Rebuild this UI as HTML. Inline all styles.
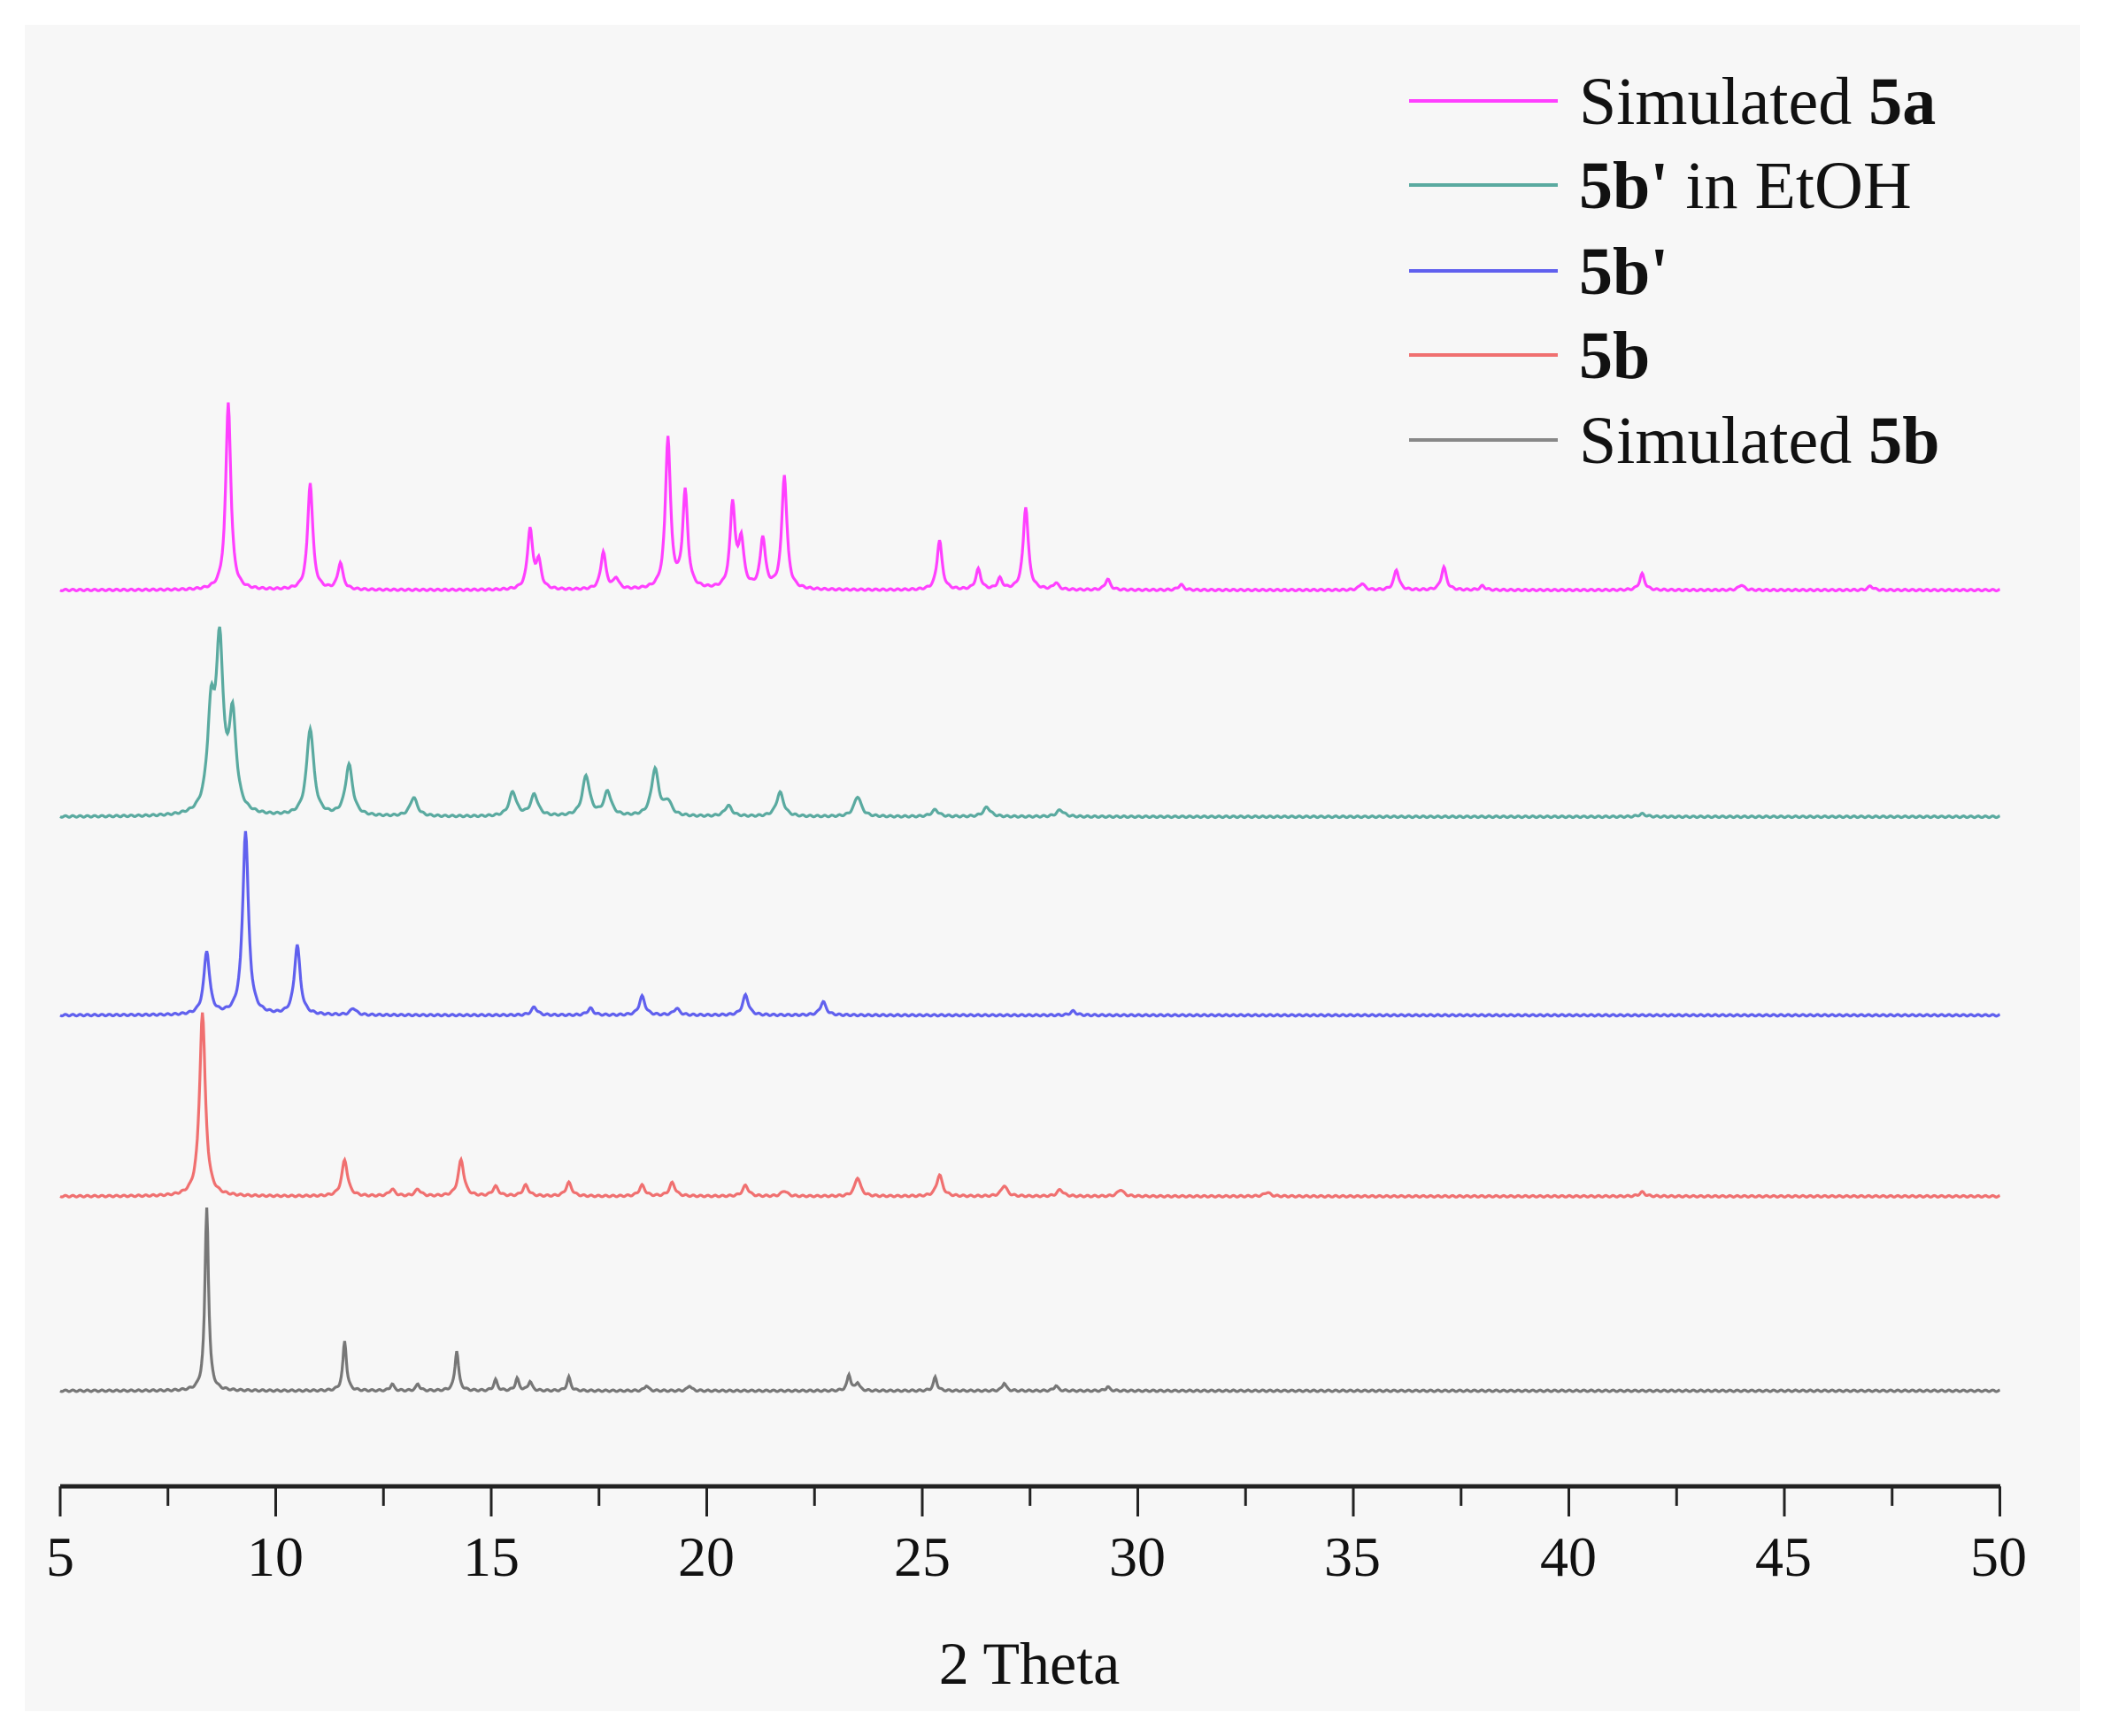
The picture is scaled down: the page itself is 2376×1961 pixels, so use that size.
<!DOCTYPE html>
<html><head><meta charset="utf-8">
<style>
html,body{margin:0;padding:0;background:#fff;}
svg{display:block;}
text{font-family:"Liberation Serif",serif;fill:#111;}
</style></head>
<body>
<svg id="s" width="2376" height="1961" viewBox="0 0 2376 1961" xmlns="http://www.w3.org/2000/svg">
<rect x="28" y="28" width="2322" height="1905" fill="#f7f7f7"/>
<g id="series"></g>
<line x1="68" y1="1679" x2="2260" y2="1679" stroke="#222" stroke-width="5"/>
<g id="ticks" stroke="#222" stroke-width="3"></g>
<g font-size="64" text-anchor="middle">
<text x="68" y="1780">5</text><text x="311" y="1780">10</text><text x="555" y="1780">15</text>
<text x="798" y="1780">20</text><text x="1042" y="1780">25</text><text x="1285" y="1780">30</text>
<text x="1528" y="1780">35</text><text x="1772" y="1780">40</text><text x="2015" y="1780">45</text>
<text x="2258" y="1780">50</text>
<text x="1163" y="1902" font-size="68">2 Theta</text>
</g>
<g stroke-width="4">
<line x1="1592" y1="114" x2="1760" y2="114" stroke="#ff40ff"/>
<line x1="1592" y1="209" x2="1760" y2="209" stroke="#5aaaa0"/>
<line x1="1592" y1="306" x2="1760" y2="306" stroke="#6060ee"/>
<line x1="1592" y1="401" x2="1760" y2="401" stroke="#f07070"/>
<line x1="1592" y1="497" x2="1760" y2="497" stroke="#888"/>
</g>
<g font-size="76">
<text x="1784" y="140">Simulated <tspan font-weight="bold">5a</tspan></text>
<text x="1784" y="235"><tspan font-weight="bold">5b'</tspan> in EtOH</text>
<text x="1784" y="332" font-weight="bold">5b'</text>
<text x="1784" y="427" font-weight="bold">5b</text>
<text x="1784" y="523">Simulated <tspan font-weight="bold">5b</tspan></text>
</g>
</svg>
<script>
var X=function(t){return 68+(t-5)*48.7;};
var tk=document.getElementById('ticks'),h='';
for(var t=5;t<=50;t+=2.5){var x=X(t);var big=(t%5===0);h+='<line x1="'+x+'" y1="1679" x2="'+x+'" y2="'+(1679+(big?34:22))+'"/>';}
tk.innerHTML=h;
var S=1.515;
var series=[
 {c:"#ff40ff",b:440,w:0.07,p:[[8.9,140],[10.8,80],[11.5,20],[15.9,45],[16.1,20],[17.6,28],[17.9,8],[19.1,113],[19.5,72],[20.6,63],[20.8,35],[21.3,38],[21.8,85],[25.4,37],[26.3,15],[26.8,8],[27.4,62],[28.1,5],[29.3,8],[31,4],[35.2,5],[36,15],[37.1,17],[38,3],[41.7,12],[44,4],[47,3]]},
 {c:"#5aaaa0",b:609,w:0.1,p:[[8.5,70],[8.7,120],[9.0,70],[10.8,65],[11.7,38],[13.2,14],[15.5,18],[16.0,16],[17.2,30],[17.7,18],[18.8,35],[19.1,10],[20.5,8],[21.7,18],[23.5,15],[25.3,5],[26.5,7],[28.2,5],[41.7,2]]},
 {c:"#6060ee",b:757,w:0.08,p:[[8.4,47],[9.3,137],[10.5,52],[11.8,5],[16,6],[17.3,5],[18.5,14],[19.3,5],[20.9,15],[22.7,10],[28.5,3]]},
 {c:"#f07070",b:892,w:0.08,p:[[8.3,137],[11.6,27],[12.7,5],[13.3,5],[14.3,27],[15.1,7],[15.8,8],[16.8,10],[18.5,8],[19.2,10],[20.9,8],[21.8,4],[23.5,14],[25.4,16],[26.9,8],[28.2,5],[29.6,5],[33,3],[41.7,3]]},
 {c:"#777",b:1037,w:0.05,p:[[8.4,137],[11.6,37],[12.7,5],[13.3,5],[14.2,30],[15.1,8],[15.6,9],[15.9,7],[16.8,10],[18.6,4],[19.6,4],[23.3,12],[23.5,6],[25.3,10],[26.9,6],[28.1,4],[29.3,3]]}
];
var g='';
series.forEach(function(s){
 var d='';
 for(var t=5;t<=50.0001;t+=0.02){
  var y=0;
  s.p.forEach(function(q){var u=(t-q[0])/s.w;y+=q[1]/(1+u*u);});
  y+=Math.sin(t*37.1)*0.6;
  var py=(s.b-y)*S;
  d+=(d?'L':'M')+X(t).toFixed(1)+' '+py.toFixed(1);
 }
 g+='<path d="'+d+'" fill="none" stroke="'+s.c+'" stroke-width="3.2"/>';
});
document.getElementById('series').innerHTML=g;
</script>
</body></html>
